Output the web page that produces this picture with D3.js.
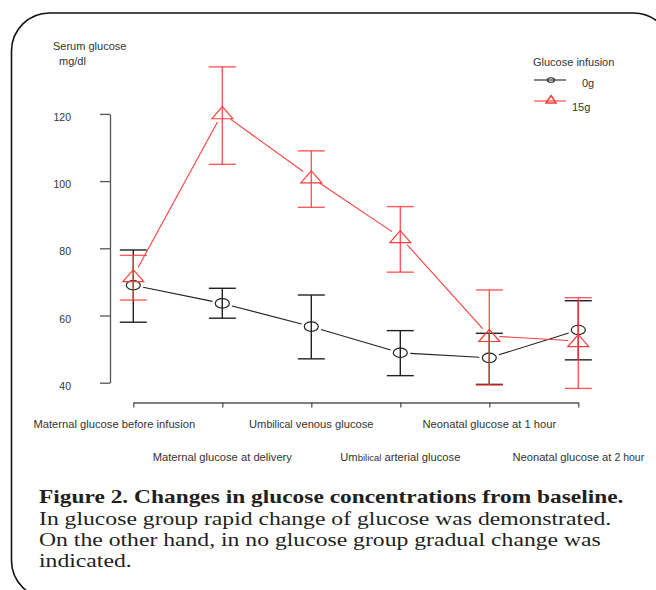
<!DOCTYPE html>
<html>
<head>
<meta charset="utf-8">
<script src="https://cdn.jsdelivr.net/npm/d3@7"></script>
<style>
  body { margin: 0; background: #fff; }
  svg text { font-family: "Liberation Sans", Arial, sans-serif; }
</style>
</head>
<body>
<div id="chart"></div>
<script>
var width = 656,
  height = 590;

// data
var categories = ["Maternal glucose before infusion", "Maternal glucose at delivery",
  "Umbilical venous glucose", "Umbilical arterial glucose",
  "Neonatal glucose at 1 hour", "Neonatal glucose at 2 hour"];
var yTicks = [40, 60, 80, 100, 120];
var mean0g = [69.0, 63.6, 56.7, 48.9, 47.4, 55.7];
var upper0g = [79.5, 68.1, 66.1, 55.5, 54.7, 64.4];
var lower0g = [58.0, 59.2, 47.1, 42.1, 39.5, 46.8];
var mean15g = [71.7, 120.2, 101.1, 83.3, 53.9, 52.4];
var upper15g = [77.9, 134.0, 109.0, 92.4, 67.6, 65.3];
var lower15g = [64.6, 105.0, 92.2, 72.9, 39.3, 38.3];
var legendTitle = "Glucose infusion";
var legendLabels = ["0g", "15g"];
var captionTitle = "Figure 2. Changes in glucose concentrations from baseline.";
var captionLines = ["In glucose group rapid change of glucose was demonstrated.",
  "On the other hand, in no glucose group gradual change was",
  "indicated."];

var black = "#222",
  red = "#ff3d3d",
  axisCol = "#555",
  textCol = "#333";

var svg = d3.select("#chart").append("svg")
  .attr("width", width)
  .attr("height", height);

// rounded frame
svg.append("rect")
  .attr("x", 11.5).attr("y", 13)
  .attr("width", 660).attr("height", 585.5)
  .attr("rx", 38).attr("ry", 38)
  .attr("fill", "none")
  .attr("stroke", "#111")
  .attr("stroke-width", 1.6);

var x = d3.scalePoint().domain(categories).range([133.3, 578.3]);
var y = d3.scaleLinear().domain([40, 120]).range([382.7, 113.9]);

// y axis
var yAxis = svg.append("g")
  .attr("transform", "translate(110,0)")
  .call(d3.axisLeft(y).tickValues(yTicks).tickSize(10).tickSizeOuter(0).tickPadding(29));
yAxis.select(".domain").attr("stroke", axisCol).attr("stroke-width", 1.3);
yAxis.selectAll(".tick line").attr("stroke", axisCol).attr("stroke-width", 1.3);
yAxis.selectAll(".tick text")
  .attr("fill", textCol)
  .attr("dy", "0.62em")
  .style("font-size", "10.5px")
  .style("font-family", "'Liberation Sans', Arial, sans-serif");

// x axis
var xAxis = svg.append("g")
  .attr("transform", "translate(0,402.5)")
  .call(d3.axisBottom(x).tickSize(5).tickSizeOuter(0).tickFormat(""));
xAxis.select(".domain").attr("stroke", axisCol).attr("stroke-width", 1.3);
xAxis.selectAll(".tick line").attr("stroke", axisCol).attr("stroke-width", 1.3);

var xLabels = svg.append("g")
  .attr("fill", textCol)
  .style("font-size", "11.2px")
  .attr("text-anchor", "middle");
categories.forEach(function(c, i) {
  var t = xLabels.append("text")
    .attr("x", x(c) + (i === 0 ? -19 : 0))
    .attr("y", i % 2 === 0 ? 427.5 : 461);
  if (c.indexOf("Umbilical") === 0) {
    t.append("tspan").text("Um");
    t.append("tspan").style("font-size", i === 3 ? "9.5px" : "10.5px").text("bilical");
    t.append("tspan").text(c.slice(9));
  } else if (c.indexOf("2 hour") > 0) {
    t.append("tspan").text(c.replace("2 hour", ""));
    t.append("tspan").style("font-size", "10.5px").text("2 hour");
  } else {
    t.text(c);
  }
});

// y title
svg.append("text").attr("x", 53).attr("y", 50)
  .attr("fill", textCol).style("font-size", "11px").text("Serum glucose");
svg.append("text").attr("x", 59).attr("y", 64.5)
  .attr("fill", textCol).style("font-size", "11px").text("mg/dl");

// line segments with gaps around the markers (type "b")
function segments(vals, gap) {
  var out = [];
  for (var i = 0; i < vals.length - 1; i++) {
    var x1 = x(categories[i]), y1 = y(vals[i]),
      x2 = x(categories[i + 1]), y2 = y(vals[i + 1]);
    var dx = x2 - x1, dy = y2 - y1, len = Math.sqrt(dx * dx + dy * dy);
    var ux = dx / len, uy = dy / len;
    out.push([x1 + ux * gap, y1 + uy * gap, x2 - ux * gap, y2 - uy * gap]);
  }
  return out;
}

function drawSeries(vals, up, lo, col, marker, opacity) {
  var g = svg.append("g");
  g.selectAll(".seg")
    .data(segments(vals, 10))
    .enter().append("line")
    .attr("x1", d => d[0]).attr("y1", d => d[1])
    .attr("x2", d => d[2]).attr("y2", d => d[3])
    .attr("stroke", col)
    .attr("stroke-width", 1.1);

  var eb = g.selectAll(".eb")
    .data(categories)
    .enter().append("g")
    .attr("stroke", col)
    .attr("stroke-opacity", opacity)
    .attr("stroke-width", 1.4);
  eb.append("line")
    .attr("x1", d => x(d)).attr("x2", d => x(d))
    .attr("y1", (d, i) => y(up[i])).attr("y2", (d, i) => y(lo[i]));
  eb.append("line")
    .attr("x1", d => x(d) - 13.5).attr("x2", d => x(d) + 13.5)
    .attr("y1", (d, i) => y(up[i])).attr("y2", (d, i) => y(up[i]));
  eb.append("line")
    .attr("x1", d => x(d) - 13.5).attr("x2", d => x(d) + 13.5)
    .attr("y1", (d, i) => y(lo[i])).attr("y2", (d, i) => y(lo[i]));

  if (marker === "circle") {
    g.selectAll(".pt")
      .data(vals)
      .enter().append("ellipse")
      .attr("cx", (d, i) => x(categories[i]))
      .attr("cy", d => y(d))
      .attr("rx", 7).attr("ry", 4.7)
      .attr("fill", "none")
      .attr("stroke", col)
      .attr("stroke-width", 1.2);
  } else {
    g.selectAll(".pt")
      .data(vals)
      .enter().append("path")
      .attr("transform", (d, i) => "translate(" + x(categories[i]) + "," + y(d) + ")")
      .attr("d", "M0,-6.5L10.5,5.5L-10.5,5.5Z")
      .attr("fill", "none")
      .attr("stroke", col)
      .attr("stroke-width", 1.2);
  }
}

drawSeries(mean0g, upper0g, lower0g, black, "circle", 1);
drawSeries(mean15g, upper15g, lower15g, red, "triangle", 0.85);

// legend
var legend = svg.append("g").attr("fill", textCol).style("font-size", "11px");
legend.append("text").attr("x", 533).attr("y", 66).text(legendTitle);
legend.append("line").attr("x1", 534).attr("x2", 566).attr("y1", 80).attr("y2", 80)
  .attr("stroke", black).attr("stroke-width", 1.1);
legend.append("ellipse").attr("cx", 551).attr("cy", 80).attr("rx", 3.5).attr("ry", 2.3)
  .attr("fill", "none").attr("stroke", black).attr("stroke-width", 1.1);
legend.append("text").attr("x", 582).attr("y", 87).text(legendLabels[0]);
legend.append("line").attr("x1", 534).attr("x2", 566).attr("y1", 101).attr("y2", 101)
  .attr("stroke", red).attr("stroke-width", 1.1);
legend.append("path").attr("transform", "translate(551,100)")
  .attr("d", "M0,-4.5L5,3L-5,3Z")
  .attr("fill", "none").attr("stroke", red).attr("stroke-width", 1.5);
legend.append("text").attr("x", 572).attr("y", 111).text(legendLabels[1]);

// caption: the source figure is stretched sideways, so scale x to fit
var capFont = "'Liberation Serif', 'Times New Roman', serif";
var cap = svg.append("g").attr("fill", "#231f20");
function capText(str, yPos, bold, target) {
  var t = cap.append("text")
    .attr("x", 0).attr("y", 0)
    .style("font-family", capFont)
    .style("font-weight", bold ? "bold" : "normal")
    .style("font-size", "18.5px")
    .text(str);
  var w = t.node().getComputedTextLength();
  var sx = target ? target / w : capScale;
  t.attr("transform", "translate(39," + yPos + ") scale(" + sx + ",1)");
  return sx;
}
var capScale = 1;
capText(captionTitle, 502.5, true, 585);
capScale = capText(captionLines[0], 525, false, 572.5);
capText(captionLines[1], 546, false, 0);
capText(captionLines[2], 567, false, 0);
</script>
</body>
</html>
